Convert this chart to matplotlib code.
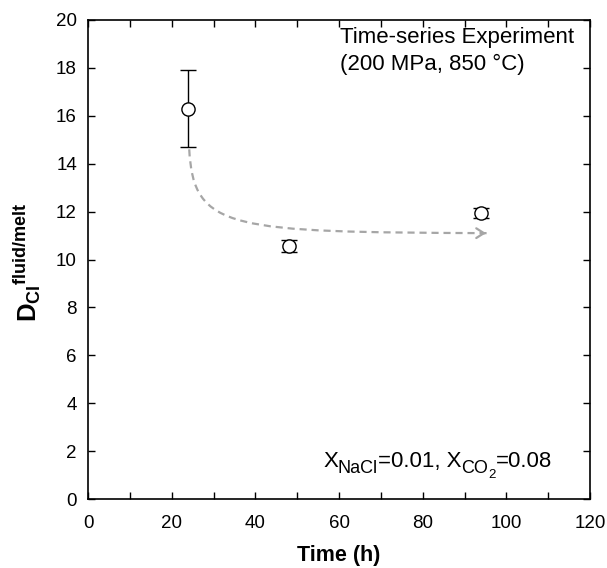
import matplotlib
matplotlib.use("Agg")
import matplotlib.pyplot as plt
from matplotlib.path import Path
from matplotlib.patches import PathPatch
from matplotlib.ticker import MultipleLocator

plt.rcParams['font.family'] = ['Liberation Sans', 'DejaVu Sans']
plt.rcParams['mathtext.fontset'] = 'custom'
plt.rcParams['mathtext.rm'] = 'Liberation Sans'
plt.rcParams['mathtext.it'] = 'Liberation Sans:italic'
plt.rcParams['mathtext.bf'] = 'Liberation Sans:bold'

# data
time_h = [24, 48, 94]
d_cl = [16.3, 10.55, 11.95]
d_err = [1.6, 0.25, 0.22]

# guide curve (trend arrow) control points
curve_x = [24.2, 25.2, 34.0, 95.8]
curve_y = [14.6, 11.2, 11.15, 11.1]

fig = plt.figure(figsize=(6.07, 5.68), dpi=100)
ax = fig.add_axes([88/607, 1 - 499/568, (590-88)/607, (499-20)/568])

# trend curve
verts = list(zip(curve_x, curve_y))
path = Path(verts, [Path.MOVETO, Path.CURVE4, Path.CURVE4, Path.CURVE4])
ax.add_patch(PathPatch(path, facecolor='none', edgecolor='#a6a6a6', lw=1.6,
                       linestyle=(0, (3.2, 2.2)), zorder=2))
ax.annotate('', xy=(curve_x[-1], curve_y[-1]), xytext=(curve_x[-1] - 2, curve_y[-1]),
            arrowprops=dict(arrowstyle='->,head_length=0.55,head_width=0.35',
                            color='#a6a6a6', lw=1.6), zorder=2)

ax.errorbar(time_h, d_cl, yerr=d_err, fmt='o', mfc='white', mec='black', mew=1.0,
            ms=9.5, ecolor='black', elinewidth=1.0, capsize=6, capthick=1.0, zorder=3)

ax.set_xlim(0, 120)
ax.set_ylim(0, 20)
ax.xaxis.set_major_locator(MultipleLocator(20))
ax.xaxis.set_minor_locator(MultipleLocator(10))
ax.yaxis.set_major_locator(MultipleLocator(2))
ax.tick_params(which='both', direction='in', top=True, right=True, length=5, width=1,
               labelsize=13.5)
ax.tick_params(axis='x', pad=11.5)
ax.tick_params(axis='y', pad=8)
for s in ax.spines.values():
    s.set_linewidth(1.2)

ax.set_xlabel('Time (h)', fontsize=15.5, fontweight='bold')
ax.xaxis.set_label_coords(0.5, (499 - 561) / 479)
ax.xaxis.label.set_va('baseline')
ax.set_ylabel(r'$\mathbf{D_{Cl}{}^{fluid/melt}}$', fontsize=18.5)
ax.yaxis.set_label_coords((43 - 88) / 502, 0.494)

ax.text(60.2, 19.03, 'Time-series Experiment', fontsize=16, ha='left', va='baseline')
ax.text(60.2, 17.91, '(200 MPa, 850 °C)', fontsize=16, ha='left', va='baseline')

# X_NaCl=0.01, X_CO2=0.08 composed with larger subscripts
y0 = 1.32
F, Fs, Fss = 16, 13, 9.5
t = ax.text(56.2, y0, 'X', fontsize=F, ha='left', va='baseline')
t = ax.annotate('NaCl', xy=(1, y0), xycoords=(t, 'data'), xytext=(0, -4),
                textcoords='offset points', fontsize=Fs, ha='left', va='baseline')
t = ax.annotate('=0.01, X', xy=(1, y0), xycoords=(t, 'data'), fontsize=F,
                ha='left', va='baseline')
t = ax.annotate('CO', xy=(1, y0), xycoords=(t, 'data'), xytext=(0, -4),
                textcoords='offset points', fontsize=Fs, ha='left', va='baseline')
t = ax.annotate('2', xy=(1, y0), xycoords=(t, 'data'), xytext=(0, -8),
                textcoords='offset points', fontsize=Fss, ha='left', va='baseline')
t = ax.annotate('=0.08', xy=(1, y0), xycoords=(t, 'data'), xytext=(0.3, 0),
                textcoords='offset points', fontsize=F, ha='left', va='baseline')

fig.savefig('out.png', dpi=100)
